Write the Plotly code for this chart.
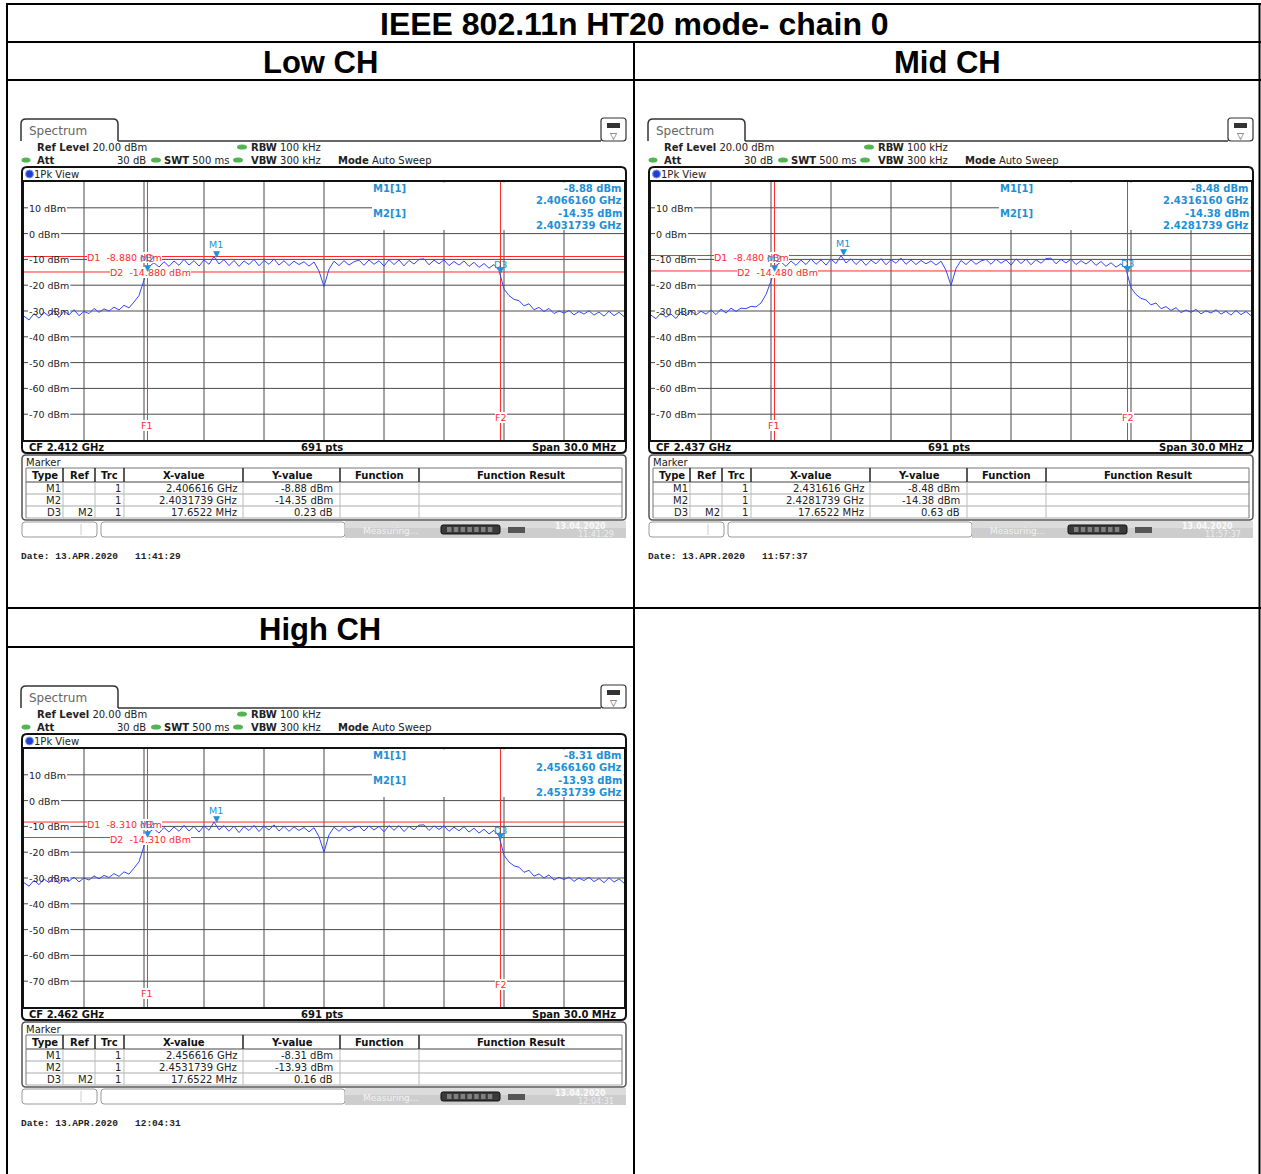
import numpy as np
import plotly.graph_objects as go

W, H = 1261, 1174

# ---------------- data ----------------
TITLE = "IEEE 802.11n HT20 mode- chain 0"
PANEL_TITLES = ["Low CH", "Mid CH", "High CH"]
CENTER_GHZ = [2.412, 2.437, 2.462]
SPAN_MHZ = 30.0
SWEEP_POINTS = 691
REF_LEVEL_DBM = 20.00
ATT_DB = 30
RBW_KHZ = 100
VBW_KHZ = 300
SWT_MS = 500
Y_TOP_DBM = 20
Y_BOTTOM_DBM = -80
Y_TICKS_DBM = [10, 0, -10, -20, -30, -40, -50, -60, -70]

M1_FREQ_GHZ = [2.406616, 2.431616, 2.456616]
M1_LEVEL_DBM = [-8.88, -8.48, -8.31]
M2_FREQ_GHZ = [2.4031739, 2.4281739, 2.4531739]
M2_LEVEL_DBM = [-14.35, -14.38, -13.93]
D3_OFFSET_MHZ = [17.6522, 17.6522, 17.6522]
D3_DELTA_DB = [0.23, 0.63, 0.16]
D1_LEVEL_DBM = [-8.880, -8.480, -8.310]
D2_LEVEL_DBM = [-14.880, -14.480, -14.310]
DATES = ["13.APR.2020", "13.APR.2020", "13.APR.2020"]
TIMES = ["11:41:29", "11:57:37", "12:04:31"]
STATUS_DATE = "13.04.2020"

LOW_TRACE = [
    -32.0, -33.5, -31.0, -32.8, -30.5, -32.0, -29.8, -32.5, -30.0, -31.5,
    -29.5, -31.8, -30.2, -31.0, -29.0, -30.5, -29.2, -30.0, -28.5, -29.6,
    -27.8, -28.8, -26.5, -24.0, -18.0, -12.8, -11.3, -13.0, -10.9, -12.7,
    -10.6, -12.3, -10.0, -12.2, -10.5, -12.6, -10.2, -11.9, -8.9, -11.8,
    -10.1, -12.4, -10.4, -12.7, -10.6, -12.0, -10.0, -12.5, -10.4, -11.9,
    -9.8, -12.2, -10.5, -12.4, -10.7, -12.0, -10.9, -12.6, -11.0, -14.5,
    -20.5, -13.8, -10.7, -12.4, -10.5, -12.2, -10.9, -10.3, -12.3, -10.2,
    -11.9, -10.5, -12.6, -10.1, -12.0, -10.2, -12.5, -10.4, -11.8, -10.0,
    -9.8, -12.1, -10.3, -11.7, -10.2, -12.4, -10.8, -12.2, -10.6, -12.7,
    -11.1, -13.1, -11.6, -13.4, -12.0, -14.3, -21.5, -24.0, -25.5, -26.0,
    -28.0, -27.2, -29.5, -28.6, -30.2, -29.0, -31.0, -30.0, -30.8, -29.8,
    -31.5, -30.2, -31.2, -29.9, -31.6, -30.4, -32.0, -30.1, -31.8, -30.5,
    -32.2]
MID_TRACE = [
    -31.6, -33.0, -30.7, -32.4, -31.2, -32.9, -30.3, -31.9, -29.9, -31.6,
    -30.1, -31.2, -29.6, -31.4, -29.3, -30.8, -28.9, -30.2, -28.9, -29.1,
    -28.2, -28.4, -26.9, -23.6, -18.4, -12.4, -11.0, -12.7, -10.6, -12.3,
    -10.3, -12.0, -9.8, -11.9, -10.2, -12.2, -9.9, -11.6, -8.5, -11.4,
    -9.8, -12.0, -10.1, -12.3, -10.3, -11.7, -9.7, -12.1, -10.1, -11.5,
    -9.5, -11.9, -10.2, -12.0, -10.4, -11.7, -10.6, -12.2, -10.7, -14.2,
    -20.1, -13.5, -10.4, -12.0, -10.2, -11.9, -10.6, -10.0, -11.9, -9.9,
    -11.5, -10.2, -12.2, -9.8, -11.6, -9.9, -12.1, -10.1, -11.5, -9.7,
    -9.5, -11.7, -10.0, -11.4, -9.9, -12.0, -10.5, -11.8, -10.3, -12.3,
    -10.8, -12.7, -11.3, -13.0, -11.7, -13.8, -21.0, -23.6, -25.1, -25.7,
    -27.6, -26.9, -29.1, -28.3, -29.8, -28.7, -30.6, -29.6, -30.5, -29.4,
    -31.1, -29.9, -30.8, -29.5, -31.2, -30.1, -31.6, -29.8, -31.4, -30.2,
    -31.8]
HIGH_TRACE = [
    -31.8, -33.2, -30.9, -32.6, -30.4, -31.8, -29.6, -32.2, -30.3, -31.2,
    -29.7, -31.5, -30.0, -30.8, -29.2, -30.3, -29.0, -29.8, -28.3, -29.4,
    -27.6, -28.5, -26.2, -23.7, -17.6, -12.3, -10.9, -12.6, -10.4, -12.2,
    -10.2, -11.9, -9.6, -11.8, -10.0, -12.2, -9.8, -11.5, -8.3, -11.3,
    -9.7, -11.9, -9.9, -12.4, -10.1, -11.6, -9.6, -12.0, -9.9, -11.4,
    -9.4, -11.8, -10.0, -11.9, -10.2, -11.6, -10.4, -12.1, -10.5, -14.0,
    -20.0, -13.3, -10.3, -11.9, -10.1, -11.8, -10.5, -9.9, -11.8, -9.8,
    -11.4, -10.0, -12.1, -9.7, -11.5, -9.7, -12.0, -10.0, -11.3, -9.5,
    -9.4, -11.6, -9.8, -11.2, -9.8, -11.9, -10.3, -11.7, -10.1, -12.2,
    -10.7, -12.6, -11.1, -12.9, -11.5, -13.8, -21.2, -23.8, -25.3, -25.8,
    -27.8, -27.0, -29.3, -28.4, -30.0, -28.8, -30.8, -29.7, -30.6, -29.6,
    -31.3, -30.0, -31.0, -29.7, -31.4, -30.2, -31.8, -29.9, -31.6, -30.3,
    -32.0]
TRACES = [LOW_TRACE, MID_TRACE, HIGH_TRACE]

# ---------------- styling / layout ----------------
SANS = "DejaVu Sans"
MONO = "Liberation Mono"
ARIAL = "Liberation Sans"
BLUE = "#3348f2"
MK = "#1e90d6"
RED = "#ff2b2b"
GRID = "#4a4a4a"
GREEN = "#52b552"
NB = "\u00a0"

OFFSETS = [(0, 0), (627, 0), (0, 567)]
TITLE_POS = [(320, 62), (947, 62), (320, 629)]

shapes, annos = [], []


def fx(x):
    return x / W


def fy(y):
    return 1 - y / H


def line(x0, y0, x1, y1, color="#000", w=1):
    shapes.append(dict(type="line", xref="paper", yref="paper", x0=fx(x0), y0=fy(y0),
                       x1=fx(x1), y1=fy(y1), line=dict(color=color, width=w), layer="above"))


def rect(x0, y0, x1, y1, fill="rgba(0,0,0,0)", color="rgba(0,0,0,0)", w=0):
    shapes.append(dict(type="rect", xref="paper", yref="paper", x0=fx(x0), y0=fy(y1),
                       x1=fx(x1), y1=fy(y0), fillcolor=fill,
                       line=dict(color=color, width=w), layer="above"))


def rrect(x0, y0, x1, y1, r, fill="rgba(0,0,0,0)", color="#000", w=1):
    def p(x, y):
        return f"{fx(x):.6f},{fy(y):.6f}"
    path = (f"M{p(x0 + r, y0)} L{p(x1 - r, y0)} Q{p(x1, y0)} {p(x1, y0 + r)} "
            f"L{p(x1, y1 - r)} Q{p(x1, y1)} {p(x1 - r, y1)} L{p(x0 + r, y1)} "
            f"Q{p(x0, y1)} {p(x0, y1 - r)} L{p(x0, y0 + r)} Q{p(x0, y0)} {p(x0 + r, y0)} Z")
    shapes.append(dict(type="path", xref="paper", yref="paper", path=path, fillcolor=fill,
                       line=dict(color=color, width=w), layer="above"))


def ellipse(cx, cy, rx, ry, fill, color=None):
    shapes.append(dict(type="circle", xref="paper", yref="paper", x0=fx(cx - rx), x1=fx(cx + rx),
                       y0=fy(cy + ry), y1=fy(cy - ry), fillcolor=fill,
                       line=dict(color=color or fill, width=1 if color else 0), layer="above"))


def text(x, y, s, size=10, color="#222", anchor="left", family=SANS, bg=None):
    d = dict(xref="paper", yref="paper", x=fx(x), y=fy(y + (0.5 if size <= 12 else 0)), text=s,
             showarrow=False, xanchor=anchor, yanchor="middle",
             font=dict(family=family, size=size, color=color), borderpad=0, borderwidth=0)
    if bg:
        d["bgcolor"] = bg
    annos.append(d)


CW = {'-': .361, ' ': .318, '.': .318, 'd': .635, 'B': .686, 'm': .974}


def est_w(s, size):
    return sum(CW.get(c, .636) for c in s) * size


# ---- outer table ----
line(7, 4, 1261, 4, w=2)
line(7, 42, 1261, 42, w=2)
line(7, 80, 1261, 80, w=2)
line(7, 608, 1261, 608, w=2)
line(7, 647, 634, 647, w=2)
line(7, 3, 7, 1174, w=2)
line(634, 42, 634, 1174, w=2)
line(1259.5, 3, 1259.5, 1174, w=2)
text(634, 24, f"<b>{TITLE}</b>", size=32, color="#000", anchor="center", family=ARIAL)
for (tx, ty), t in zip(TITLE_POS, PANEL_TITLES):
    text(tx, ty, f"<b>{t}</b>", size=31, color="#000", anchor="center", family=ARIAL)

fig = go.Figure()
axes = {}

for k in range(3):
    ox, oy = OFFSETS[k]
    cf = CENTER_GHZ[k]
    half = SPAN_MHZ / 2000.0
    xid = "x" if k == 0 else f"x{k + 1}"
    yid = "y" if k == 0 else f"y{k + 1}"
    xn = "xaxis" if k == 0 else f"xaxis{k + 1}"
    yn = "yaxis" if k == 0 else f"yaxis{k + 1}"
    m1f, m1l = M1_FREQ_GHZ[k], M1_LEVEL_DBM[k]
    m2f, m2l = M2_FREQ_GHZ[k], M2_LEVEL_DBM[k]
    f1 = m2f
    f2 = m2f + D3_OFFSET_MHZ[k] / 1000.0
    d3l = m2l + D3_DELTA_DB[k]

    def X(v):
        return ox + v

    def Y(v):
        return oy + v

    # ---- tab + header ----
    def p(x, y):
        return f"{fx(x):.6f},{fy(y):.6f}"
    tab = (f"M{p(X(21), Y(141))} L{p(X(21), Y(124))} Q{p(X(21), Y(119))} {p(X(26), Y(119))} "
           f"L{p(X(113), Y(119))} Q{p(X(118), Y(119))} {p(X(118), Y(124))} L{p(X(118), Y(141))}")
    shapes.append(dict(type="path", xref="paper", yref="paper", path=tab,
                       line=dict(color="#333", width=1.5), layer="above"))
    line(X(118), Y(141), X(601), Y(141), "#333", 1.5)
    text(X(29), Y(130), "Spectrum", size=12, color="#666")
    rrect(X(601), Y(118), X(626), Y(141), 3, fill="#fff", color="#333", w=1.2)
    rect(X(607), Y(123), X(620), Y(128), fill="#333")
    text(X(613.5), Y(135), "▽", size=9, color="#333", anchor="center")

    text(X(37), Y(147), f"<b>Ref Level</b> {REF_LEVEL_DBM:.2f} dBm", size=10)
    ellipse(X(242), Y(147), 5, 2.6, GREEN)
    text(X(251), Y(147), f"<b>RBW</b> {RBW_KHZ} kHz", size=10)
    ellipse(X(26), Y(160), 4.5, 2.6, GREEN)
    text(X(37), Y(160), "<b>Att</b>", size=10)
    text(X(146), Y(160), f"{ATT_DB} dB", size=10, anchor="right")
    ellipse(X(156), Y(160), 5, 2.6, GREEN)
    text(X(164), Y(160), f"<b>SWT</b> {SWT_MS} ms", size=10)
    ellipse(X(238), Y(160), 5, 2.6, GREEN)
    text(X(251), Y(160), f"<b>VBW</b> {VBW_KHZ} kHz", size=10)
    text(X(338), Y(160), "<b>Mode</b> Auto Sweep", size=10)

    # ---- plot window ----
    rrect(X(22), Y(167), X(626), Y(453), 5, color="#111", w=2)
    ellipse(X(29.5), Y(174), 4, 4, "#1f3fd0", "#7f9cff")
    text(X(34), Y(174), "1Pk View", size=10)
    text(X(29), Y(447), f"<b>CF {cf:.3f} GHz</b>", size=10, color="#111")
    text(X(322), Y(447), f"<b>{SWEEP_POINTS} pts</b>", size=10, color="#111", anchor="center")
    text(X(616), Y(447), f"<b>Span {SPAN_MHZ:.1f} MHz</b>", size=10, color="#111", anchor="right")

    axes[xn] = dict(domain=[fx(X(24)), fx(X(624))], range=[cf - half, cf + half],
                    anchor=yid, showgrid=False, showticklabels=False, ticks="", zeroline=False,
                    showline=True, mirror=True, linecolor="#111", linewidth=1.5, fixedrange=True)
    axes[yn] = dict(domain=[fy(Y(440)), fy(Y(182))], range=[Y_BOTTOM_DBM, Y_TOP_DBM],
                    anchor=xid, showgrid=False, showticklabels=False, ticks="", zeroline=False,
                    showline=True, mirror=True, linecolor="#111", linewidth=1.5, fixedrange=True)

    def dline(x0, y0, x1, y1, color, w=1):
        shapes.append(dict(type="line", xref=xid, yref=yid, x0=x0, x1=x1, y0=y0, y1=y1,
                           line=dict(color=color, width=w), layer="below"))

    def px2data(pxx, pyy):
        return (cf - half + (pxx - 24) / 600.0 * (2 * half),
                Y_BOTTOM_DBM + (440 - pyy) / 258.0 * (Y_TOP_DBM - Y_BOTTOM_DBM))

    def drect(x0, y0, x1, y1, fill="#fff"):
        a, b = px2data(x0, y1)
        c, d = px2data(x1, y0)
        shapes.append(dict(type="rect", xref=xid, yref=yid, x0=a, x1=c, y0=b, y1=d,
                           fillcolor=fill, line=dict(width=0), layer="below"))

    # grid (drawn as shapes under everything in the plot)
    step = SPAN_MHZ / 10 / 1000.0
    for i in range(1, 10):
        xv = cf - half + i * step
        dline(xv, Y_BOTTOM_DBM, xv, Y_TOP_DBM, GRID)
    for v in Y_TICKS_DBM:
        dline(cf - half, v, cf + half, v, GRID)

    # marker info white box and y-label backgrounds
    drect(372, 182.5, 623.5, 230)
    for v in Y_TICKS_DBM:
        yy = 440 - (v - Y_BOTTOM_DBM) / (Y_TOP_DBM - Y_BOTTOM_DBM) * 258
        lab = f"{v} dBm"
        drect(28, yy - 5, 29 + est_w(lab, 9.5) + 1, yy + 5)
        text(X(29), Y(yy), lab, size=9.5, color="#222")

    # red display / frequency lines
    for yv in (D1_LEVEL_DBM[k], D2_LEVEL_DBM[k]):
        dline(cf - half, yv, cf + half, yv, RED)
    for xv in (f1, f2):
        dline(xv, Y_BOTTOM_DBM, xv, Y_TOP_DBM, RED)

    freqs = np.linspace(cf - half, cf + half, len(TRACES[k]))
    fig.add_trace(go.Scatter(x=freqs, y=TRACES[k], mode="lines", line=dict(color=BLUE, width=1),
                             xaxis=xid, yaxis=yid, hoverinfo="skip", showlegend=False))

    # display line labels
    text(X(87), Y(257), f"D1{NB}{NB}{D1_LEVEL_DBM[k]:.3f} dBm", size=9.5, color=RED, bg="#fff")
    text(X(110), Y(272), f"D2{NB}{NB}{D2_LEVEL_DBM[k]:.3f} dBm", size=9.5, color=RED, bg="#fff")
    for xv, ypx, lab in ((f1, 426, "F1"), (f2, 417, "F2")):
        annos.append(dict(xref=xid, yref="paper", x=xv, y=fy(Y(ypx)), text=lab, showarrow=False,
                          xanchor="center", yanchor="middle", bgcolor="#fff", borderpad=0,
                          borderwidth=0, font=dict(family=SANS, size=9.5, color=RED)))

    # marker symbols
    for xv, yv, lab, tri_shift, lab_shift in ((m1f, m1l, "M1", -3, 12), (m2f, m2l, "M2", -3, 12),
                                              (f2, d3l, "D3", -6, 6)):
        annos.append(dict(xref=xid, yref=yid, x=xv, y=yv, text="▼", showarrow=False,
                          xanchor="center", yanchor="bottom", yshift=tri_shift, borderpad=0,
                          font=dict(family=SANS, size=9, color=MK)))
        annos.append(dict(xref=xid, yref=yid, x=xv, y=yv, text=lab, showarrow=False,
                          xanchor="center", yanchor="middle", yshift=lab_shift, borderpad=0,
                          font=dict(family=SANS, size=9.5, color=MK)))

    # marker info text
    text(X(373), Y(188), "<b>M1[1]</b>", size=10, color=MK)
    text(X(373), Y(213), "<b>M2[1]</b>", size=10, color=MK)
    text(X(622), Y(188), f"<b>{m1l:.2f} dBm</b>", size=10, color=MK, anchor="right")
    text(X(622), Y(200), f"<b>{m1f:.7f} GHz</b>", size=10, color=MK, anchor="right")
    text(X(622), Y(213), f"<b>{m2l:.2f} dBm</b>", size=10, color=MK, anchor="right")
    text(X(622), Y(225), f"<b>{m2f:.7f} GHz</b>", size=10, color=MK, anchor="right")

    # ---- marker table ----
    rrect(X(22), Y(455), X(626), Y(520), 4, color="#555", w=1.5)
    text(X(26), Y(462), "Marker", size=10, color="#222")
    cols = [26, 63, 95, 124, 243, 340, 419, 622]
    line(X(26), Y(468), X(622), Y(468), "#777", 1)
    line(X(26), Y(482), X(622), Y(482), "#444", 1.2)
    for yy in (494, 506, 518):
        line(X(26), Y(yy), X(622), Y(yy), "#aaa", 1)
    line(X(26), Y(468), X(26), Y(518), "#777", 1)
    line(X(622), Y(468), X(622), Y(518), "#777", 1)
    for cx in cols[1:-1]:
        line(X(cx), Y(468), X(cx), Y(482), "#222", 1.5)
        line(X(cx), Y(482), X(cx), Y(518), "#bbb", 1)
    heads = ["Type", "Ref", "Trc", "X-value", "Y-value", "Function", "Function Result"]
    for i, hd in enumerate(heads):
        text(X((cols[i] + cols[i + 1]) / 2), Y(475), f"<b>{hd}</b>", size=10, color="#111",
             anchor="center")
    rows = [("M1", "", "1", f"{m1f:.6f} GHz", f"{m1l:.2f} dBm"),
            ("M2", "", "1", f"{m2f:.7f} GHz", f"{m2l:.2f} dBm"),
            ("D3", "M2", "1", f"{D3_OFFSET_MHZ[k]:.4f} MHz", f"{D3_DELTA_DB[k]:.2f} dB")]
    rights = [61, 93, 121, 237, 333]
    for r, row in enumerate(rows):
        for c, val in enumerate(row):
            if val:
                text(X(rights[c]), Y(488 + 12 * r), val, size=10, color="#222", anchor="right")

    # ---- status bar ----
    rrect(X(22), Y(522), X(97), Y(537), 3, fill="#fff", color="#999", w=1)
    line(X(81), Y(524), X(81), Y(535), "#ccc", 1)
    rrect(X(101), Y(522), X(345), Y(537), 3, fill="#fff", color="#999", w=1)
    rect(X(345), Y(521), X(626), Y(538), fill="#cdcdcd")
    rect(X(345), Y(521), X(626), Y(528), fill="#dcdcdc")
    text(X(363), Y(530), "Measuring...", size=9, color="#f2f2f2")
    rrect(X(441), Y(525), X(500), Y(534), 2, fill="#3a3a3a", color="#111", w=1)
    for i in range(7):
        rect(X(447 + i * 6.8), Y(527), X(451.5 + i * 6.8), Y(532), fill="#808080")
    rect(X(508), Y(527), X(525), Y(533), fill="#555")
    text(X(580), Y(526), f"<b>{STATUS_DATE}</b>", size=8, color="#fafafa", anchor="center")
    text(X(596), Y(534), f"{TIMES[k]}", size=8, color="#eeeeee", anchor="center")

    # ---- date line ----
    text(X(21), Y(556), f"<b>Date:{NB}{DATES[k]}{NB}{NB}{NB}{TIMES[k]}</b>", size=9.5,
         color="#222", family=MONO)

fig.update_layout(width=W, height=H, margin=dict(l=0, r=0, t=0, b=0),
                  paper_bgcolor="#fff", plot_bgcolor="#fff", shapes=shapes, annotations=annos,
                  showlegend=False, **axes)
fig.write_html("out.html", config={"displayModeBar": False, "responsive": False},
               post_script="document.body.style.margin='0px';")
